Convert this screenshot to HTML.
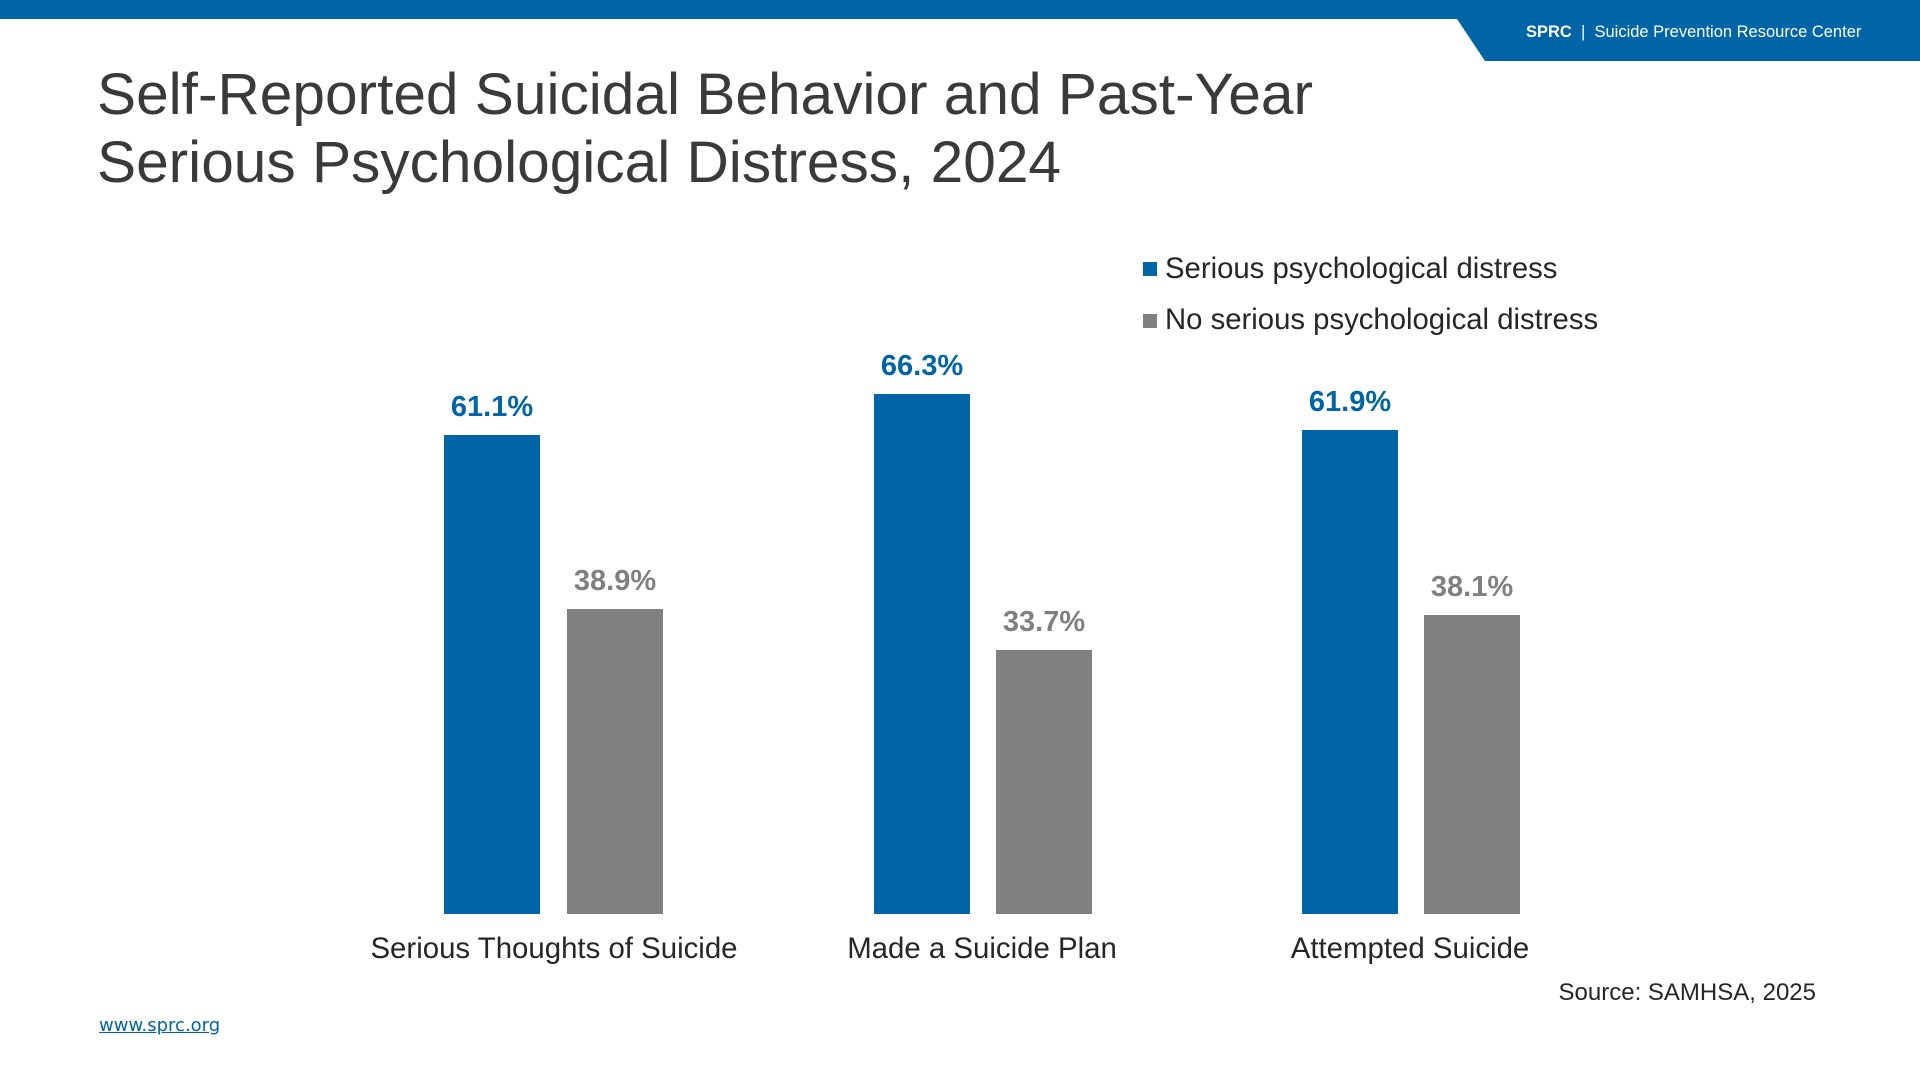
<!DOCTYPE html>
<html><head><meta charset="utf-8"><style>
body{margin:0;width:1920px;height:1080px;background:#fff;position:relative;overflow:hidden;font-family:"Liberation Sans",sans-serif;}
.a{position:absolute;}
.bar{position:absolute;width:96px;}
.b{background:#0065a6;}.g{background:#808080;}
.v{position:absolute;width:160px;text-align:center;font-weight:bold;font-size:29px;line-height:30px;}
.c{position:absolute;width:500px;text-align:center;font-size:29.4px;line-height:30px;color:#262626;}
</style></head><body>
<svg class="a" style="left:0;top:0" width="1920" height="62">
<rect x="0" y="0" width="1920" height="19" fill="#0065a6"/>
<polygon points="1457,19 1920,19 1920,61 1485,61" fill="#0065a6"/>
</svg>
<div class="a" style="left:1526px;top:20px;font-size:16.5px;line-height:24px;color:#fff;font-family:'Liberation Sans',sans-serif;"><b>SPRC</b> &nbsp;| &nbsp;Suicide Prevention Resource Center</div>
<div class="a" style="left:97px;top:61px;font-size:58.6px;line-height:68px;color:#3a3a3a;">Self-Reported Suicidal Behavior and Past-Year<br>Serious Psychological Distress, 2024</div>

<div class="a" style="left:1143px;top:262px;width:14px;height:14px;background:#0065a6"></div>
<div class="a" style="left:1165px;top:254px;font-size:29.3px;line-height:30px;color:#262626">Serious psychological distress</div>
<div class="a" style="left:1143px;top:314px;width:14px;height:14px;background:#808080"></div>
<div class="a" style="left:1165px;top:305px;font-size:29.3px;line-height:30px;color:#262626">No serious psychological distress</div>

<div class="bar b" style="left:444px;top:435px;height:479px"></div>
<div class="bar g" style="left:567px;top:609px;height:305px"></div>
<div class="bar b" style="left:874px;top:394px;height:520px"></div>
<div class="bar g" style="left:996px;top:650px;height:264px"></div>
<div class="bar b" style="left:1302px;top:430px;height:484px"></div>
<div class="bar g" style="left:1424px;top:615px;height:299px"></div>

<div class="v" style="left:412px;top:392px;color:#0065a6">61.1%</div>
<div class="v" style="left:535px;top:566px;color:#808080">38.9%</div>
<div class="v" style="left:842px;top:351px;color:#0065a6">66.3%</div>
<div class="v" style="left:964px;top:607px;color:#808080">33.7%</div>
<div class="v" style="left:1270px;top:387px;color:#0065a6">61.9%</div>
<div class="v" style="left:1392px;top:572px;color:#808080">38.1%</div>

<div class="c" style="left:304px;top:934px">Serious Thoughts of Suicide</div>
<div class="c" style="left:732px;top:934px">Made a Suicide Plan</div>
<div class="c" style="left:1160px;top:934px">Attempted Suicide</div>

<div class="a" style="right:104px;top:979px;font-size:24px;line-height:28px;color:#262626">Source: SAMHSA, 2025</div>
<div class="a" style="left:99px;top:1015px;font-size:18px;line-height:22px;color:#0065a6;text-decoration:underline;font-family:'DejaVu Sans','Liberation Sans',sans-serif;">www.sprc.org</div>
</body></html>
